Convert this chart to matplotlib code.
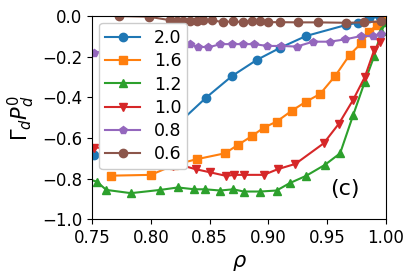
import matplotlib
matplotlib.use("Agg")
import matplotlib.pyplot as plt

# series keyed by legend label
labels = ["2.0", "1.6", "1.2", "1.0", "0.8", "0.6"]

rho_20 = [0.745, 0.752, 0.775, 0.800, 0.826, 0.847, 0.869, 0.890, 0.910, 0.932, 0.966, 0.976, 0.986, 0.995, 1.0]
val_20 = [-0.67, -0.683, -0.70, -0.62, -0.514, -0.401, -0.295, -0.216, -0.156, -0.098, -0.044, -0.033, -0.011, -0.003, 0.0]

rho_16 = [0.766, 0.800, 0.820, 0.839, 0.863, 0.874, 0.886, 0.896, 0.907, 0.920, 0.932, 0.944, 0.957, 0.969, 0.979, 0.986, 0.992, 0.998]
val_16 = [-0.785, -0.781, -0.732, -0.704, -0.675, -0.634, -0.590, -0.549, -0.519, -0.465, -0.421, -0.383, -0.293, -0.192, -0.134, -0.077, -0.044, -0.020]

rho_12 = [0.745, 0.754, 0.762, 0.783, 0.808, 0.823, 0.837, 0.846, 0.859, 0.870, 0.879, 0.893, 0.907, 0.918, 0.932, 0.948, 0.961, 0.972, 0.982, 0.990, 0.996, 1.0]
val_12 = [-0.80, -0.814, -0.855, -0.871, -0.855, -0.843, -0.852, -0.852, -0.858, -0.852, -0.863, -0.863, -0.858, -0.822, -0.786, -0.732, -0.675, -0.489, -0.323, -0.197, -0.075, -0.03]

rho_10 = [0.745, 0.752, 0.775, 0.800, 0.819, 0.825, 0.838, 0.850, 0.864, 0.871, 0.879, 0.896, 0.908, 0.923, 0.947, 0.960, 0.972, 0.982, 0.990, 0.995]
val_10 = [-0.647, -0.647, -0.65, -0.70, -0.737, -0.732, -0.753, -0.768, -0.786, -0.781, -0.781, -0.781, -0.753, -0.727, -0.626, -0.529, -0.413, -0.30, -0.167, -0.126]

rho_08 = [0.752, 0.775, 0.800, 0.815, 0.826, 0.833, 0.840, 0.849, 0.859, 0.869, 0.878, 0.888, 0.899, 0.911, 0.924, 0.938, 0.952, 0.965, 0.979, 0.989, 0.996]
val_08 = [-0.18, -0.16, -0.145, -0.136, -0.134, -0.138, -0.150, -0.154, -0.138, -0.138, -0.138, -0.138, -0.147, -0.147, -0.150, -0.126, -0.126, -0.115, -0.098, -0.098, -0.088]

rho_06 = [0.773, 0.798, 0.816, 0.822, 0.827, 0.833, 0.839, 0.844, 0.852, 0.861, 0.870, 0.878, 0.886, 0.893, 0.900, 0.910, 0.925, 0.942, 0.966, 0.981, 0.996]
val_06 = [0.0, -0.003, -0.020, -0.023, -0.023, -0.023, -0.023, -0.020, -0.020, -0.030, -0.026, -0.030, -0.023, -0.026, -0.030, -0.030, -0.031, -0.031, -0.033, -0.031, -0.026]

xs = [rho_20, rho_16, rho_12, rho_10, rho_08, rho_06]
ys = [val_20, val_16, val_12, val_10, val_08, val_06]
markers = ["o", "s", "^", "v", "p", "o"]

fig = plt.figure(figsize=(4.15, 2.77), dpi=100)
ax = fig.add_axes([0.222, 0.208, 0.708, 0.734])

for x, y, m, lab in zip(xs, ys, markers, labels):
    ax.plot(x, y, marker=m, markersize=6, label=lab)

ax.set_xlim(0.75, 1.0)
ax.set_ylim(-1.0, 0.0)
ax.tick_params(labelsize=12)
ax.set_xlabel(r"$\rho$", fontsize=15)
ax.set_ylabel(r"$\Gamma_d P_d^0$", fontsize=15)
ax.text(0.965, -0.85, "(c)", fontsize=16, ha="center", va="center")
ax.legend(loc="upper left", fontsize=12.5, handlelength=2.0, labelspacing=0.3,
          borderpad=0.35, borderaxespad=0.4, handletextpad=0.8, framealpha=1.0)

fig.savefig("out.png", dpi=100)
